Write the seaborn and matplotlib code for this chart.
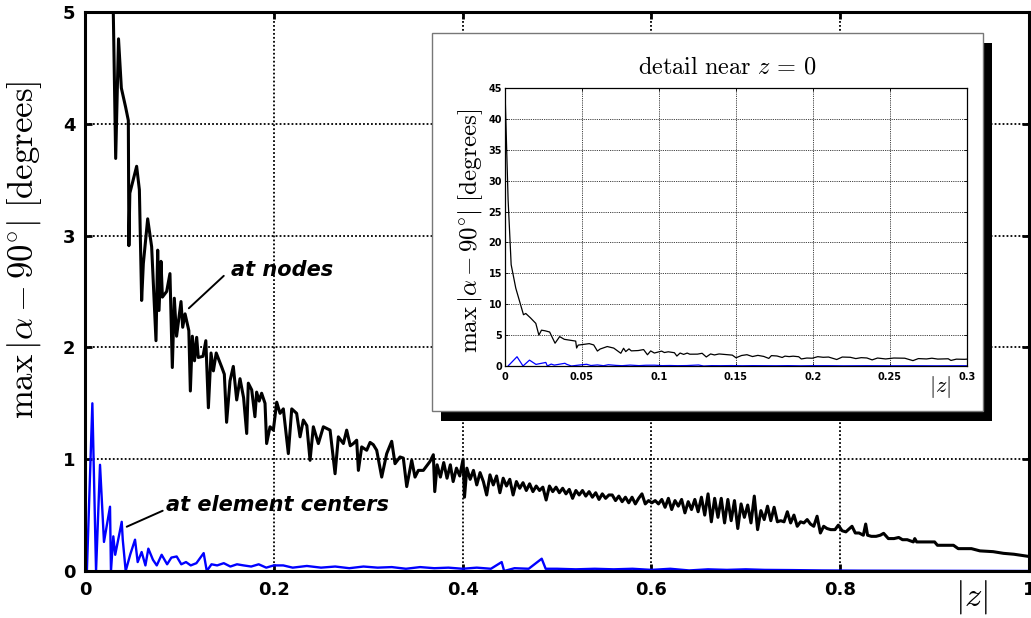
import matplotlib
matplotlib.use("Agg")
import matplotlib.pyplot as plt
from matplotlib.patches import Rectangle
import seaborn as sns
import pandas as pd

# max deviation at mesh nodes
z_nodes = [
    0.000, 0.002, 0.004, 0.007, 0.010, 0.012, 0.0135, 0.0165, 0.020, 0.022,
    0.0237, 0.026, 0.029, 0.0325, 0.0355, 0.0385, 0.043, 0.0459, 0.0465, 0.0475,
    0.0547, 0.0576, 0.060, 0.0618, 0.0664, 0.0706, 0.0752, 0.077, 0.0784, 0.0805,
    0.082, 0.0865, 0.090, 0.0925, 0.0946, 0.097, 0.1017, 0.1035, 0.106, 0.110,
    0.1116, 0.1137, 0.116, 0.1183, 0.120, 0.125, 0.128, 0.1307, 0.1335, 0.136,
    0.139, 0.1413, 0.145, 0.1476, 0.150, 0.1536, 0.1571, 0.1607, 0.1642, 0.168,
    0.1713, 0.1730, 0.1766, 0.180, 0.1818, 0.1845, 0.1871, 0.1907, 0.1924, 0.196,
    0.1995, 0.2031, 0.2066, 0.2101, 0.2154, 0.219, 0.2242, 0.2278, 0.2313, 0.235,
    0.2384, 0.2419, 0.2472, 0.2525, 0.2596, 0.2649, 0.2684, 0.2737, 0.2772, 0.281,
    0.2843, 0.2878, 0.2896, 0.2931, 0.2984, 0.302, 0.3054, 0.309, 0.3143, 0.3196,
    0.3249, 0.3284, 0.3337, 0.3372, 0.3408, 0.3461, 0.3496, 0.3531, 0.3584, 0.3655,
    0.369, 0.3705, 0.373, 0.3765, 0.380, 0.3835, 0.387, 0.390, 0.3935, 0.397,
    0.4005, 0.402, 0.4045, 0.408, 0.4115, 0.415, 0.4185, 0.422, 0.4255, 0.429,
    0.4325, 0.436, 0.4395, 0.443, 0.4465, 0.450, 0.4535, 0.457, 0.4605, 0.464,
    0.4675, 0.471, 0.4745, 0.478, 0.4815, 0.485, 0.4885, 0.492, 0.4955, 0.499,
    0.5025, 0.506, 0.5095, 0.513, 0.5165, 0.520, 0.5235, 0.527, 0.5305, 0.534,
    0.5375, 0.541, 0.5445, 0.548, 0.5515, 0.555,
    0.5585, 0.562, 0.5655, 0.569, 0.5725, 0.576, 0.5795, 0.583, 0.5865, 0.590,
    0.5935, 0.597, 0.6005, 0.604, 0.6075, 0.611, 0.6145, 0.618, 0.6215, 0.625,
    0.6285, 0.632, 0.6355, 0.639, 0.6425, 0.646, 0.6495, 0.653, 0.6565, 0.660,
    0.6635, 0.667, 0.6705, 0.674, 0.6775, 0.681, 0.6845, 0.688, 0.6915, 0.695,
    0.6985, 0.702, 0.7055, 0.709, 0.7125, 0.716, 0.7195, 0.723, 0.7265, 0.730,
    0.7335, 0.737, 0.7405, 0.744, 0.7475, 0.751, 0.7545, 0.758, 0.7615, 0.765,
    0.7685, 0.772, 0.7755, 0.779, 0.7825, 0.786,
    0.790, 0.7945, 0.798, 0.802, 0.806, 0.810, 0.8125, 0.816, 0.820, 0.8245,
    0.827, 0.829, 0.833, 0.838, 0.8425, 0.846, 0.851, 0.857, 0.862, 0.866,
    0.871, 0.8775, 0.879, 0.881, 0.900, 0.903, 0.920, 0.925, 0.939, 0.948,
    0.962, 0.973, 0.984, 1.0,
]
dev_nodes = [
    44.6, 27.0, 16.4, 12.6, 10.0, 8.3, 8.5, 7.8, 6.9, 5.0,
    5.8, 5.7, 5.5, 3.69, 4.76, 4.32, 4.15, 4.03, 2.91, 3.38,
    3.62, 3.41, 2.42, 2.75, 3.15, 2.90, 2.06, 2.87, 2.33, 2.77,
    2.45, 2.50, 2.66, 1.82, 2.44, 2.10, 2.41, 2.18, 2.30, 2.15,
    1.61, 2.10, 1.88, 2.09, 1.91, 1.92, 2.06, 1.46, 1.95, 1.79,
    1.95, 1.90, 1.82, 1.76, 1.33, 1.70, 1.83, 1.53, 1.72, 1.55,
    1.23, 1.68, 1.62, 1.38, 1.60, 1.52, 1.59, 1.50, 1.14, 1.29,
    1.26, 1.51, 1.41, 1.45, 1.05, 1.45, 1.41, 1.20, 1.35, 1.30,
    0.99, 1.29, 1.14, 1.29, 1.26, 0.87, 1.20, 1.14, 1.26, 1.12,
    1.14, 1.17, 0.90, 1.11, 1.08, 1.15, 1.13, 1.08, 0.84, 1.05,
    1.16, 0.96, 1.02, 1.01, 0.755, 0.99, 0.84, 0.90, 0.90, 0.98,
    1.04, 0.71, 0.95, 0.84, 0.97, 0.83, 0.95, 0.80, 0.92, 0.85,
    1.00, 0.66, 0.92, 0.82, 0.90, 0.77, 0.88, 0.80, 0.68, 0.86,
    0.77, 0.85, 0.70, 0.83, 0.76, 0.82, 0.68, 0.80, 0.74, 0.79,
    0.72, 0.78, 0.71, 0.76, 0.72, 0.75, 0.635, 0.76, 0.71, 0.75,
    0.70, 0.74, 0.69, 0.73, 0.65, 0.72, 0.68, 0.72, 0.67, 0.71,
    0.66, 0.70, 0.64, 0.69, 0.65, 0.68,
    0.68, 0.63, 0.67, 0.62, 0.66, 0.61, 0.66, 0.60, 0.65, 0.69,
    0.60, 0.63, 0.61, 0.63, 0.60, 0.64, 0.57, 0.65, 0.55, 0.63,
    0.58, 0.64, 0.52, 0.62, 0.55, 0.64, 0.53, 0.66, 0.50, 0.69,
    0.44, 0.65, 0.48, 0.65, 0.43, 0.64, 0.45, 0.63, 0.38, 0.60,
    0.48, 0.59, 0.43, 0.67, 0.37, 0.54, 0.46, 0.58, 0.45, 0.57,
    0.44, 0.45, 0.44, 0.53, 0.43, 0.50, 0.40, 0.44, 0.43, 0.46,
    0.42, 0.40, 0.49, 0.34, 0.40, 0.38,
    0.37, 0.37, 0.41, 0.36, 0.35, 0.38, 0.40, 0.34, 0.34, 0.32,
    0.42, 0.32, 0.31, 0.31, 0.32, 0.337, 0.29, 0.29, 0.30, 0.28,
    0.28, 0.26, 0.29, 0.26, 0.26, 0.23, 0.23, 0.20, 0.20, 0.18,
    0.173, 0.158, 0.15, 0.13,
]

# max deviation at element centers
z_centers = [
    0.002, 0.0078, 0.0117, 0.0159, 0.0201, 0.0265, 0.0275, 0.030, 0.032, 0.0389,
    0.040, 0.0431, 0.048, 0.053, 0.0558, 0.060, 0.064, 0.0671, 0.072, 0.076,
    0.0812, 0.087, 0.0915, 0.0971, 0.102, 0.107, 0.112, 0.118, 0.1257, 0.129,
    0.134, 0.140, 0.147, 0.154, 0.161, 0.168, 0.176, 0.184, 0.192, 0.200,
    0.21, 0.22, 0.235, 0.25, 0.265, 0.28, 0.295, 0.31, 0.325, 0.34,
    0.355, 0.37, 0.385, 0.40, 0.415, 0.43, 0.4414, 0.444, 0.455, 0.47,
    0.4838, 0.488, 0.50, 0.52, 0.54, 0.56, 0.58, 0.60, 0.62, 0.64,
    0.66, 0.68, 0.70, 0.72, 0.75, 0.78, 0.82, 0.88, 0.94, 1.0,
]
dev_centers = [
    0.0, 1.50, 0.0, 0.95, 0.26, 0.575, 0.0, 0.31, 0.145, 0.44,
    0.28, 0.0, 0.15, 0.28, 0.08, 0.17, 0.05, 0.20, 0.10, 0.05,
    0.145, 0.06, 0.12, 0.13, 0.06, 0.08, 0.05, 0.07, 0.16, 0.0,
    0.06, 0.05, 0.07, 0.04, 0.06, 0.05, 0.04, 0.06, 0.03, 0.05,
    0.05, 0.03, 0.045, 0.03, 0.04, 0.025, 0.04, 0.03, 0.035, 0.02,
    0.035, 0.025, 0.03, 0.02, 0.03, 0.02, 0.08, 0.0, 0.025, 0.02,
    0.11, 0.02, 0.02, 0.015, 0.02, 0.015, 0.02, 0.01, 0.02, 0.005,
    0.015, 0.01, 0.015, 0.01, 0.008, 0.005, 0.003, 0.002, 0.001, 0.0,
]

main_xticks = [0, 0.2, 0.4, 0.6, 0.8, 1.0]
main_xlabels = ["0", "0.2", "0.4", "0.6", "0.8", "1"]
main_yticks = [0, 1, 2, 3, 4, 5]
inset_xticks = [0, 0.05, 0.1, 0.15, 0.2, 0.25, 0.3]
inset_xlabels = ["0", "0.05", "0.1", "0.15", "0.2", "0.25", "0.3"]
inset_yticks = [0, 5, 10, 15, 20, 25, 30, 35, 40, 45]

assert len(z_nodes) == len(dev_nodes)
assert len(z_centers) == len(dev_centers)

sns.set_style("ticks")
plt.rcParams["font.family"] = ["DejaVu Sans"]
plt.rcParams["mathtext.fontset"] = "cm"
for key in ["text.color", "axes.labelcolor", "xtick.color", "ytick.color",
            "axes.edgecolor"]:
    plt.rcParams[key] = "black"

nodes = pd.DataFrame({"z": z_nodes, "dev": dev_nodes})
centers = pd.DataFrame({"z": z_centers, "dev": dev_centers})

W, H = 1031, 618
fig = plt.figure(figsize=(W / 100, H / 100), dpi=100)

# main axes
ax = fig.add_axes([85 / W, 1 - 571 / H, 944 / W, 559 / H])
ax.set_axisbelow(True)
sns.lineplot(data=nodes, x="z", y="dev", color="black", lw=2.2,
             estimator=None, sort=False, ax=ax)
sns.lineplot(data=centers, x="z", y="dev", color="#0000ff", lw=1.7,
             estimator=None, sort=False, ax=ax)
ax.set_xlim(0, 1)
ax.set_ylim(0, 5)
ax.set_xticks(main_xticks)
ax.set_xticklabels(main_xlabels, fontweight="bold", fontsize=13)
ax.set_yticks(main_yticks)
ax.set_yticklabels([str(t) for t in main_yticks], fontweight="bold", fontsize=13)
ax.set_xlabel("")
ax.set_ylabel("")
ax.grid(True, color="black", linestyle=(0, (1, 1.2)), lw=1.3)
ax.tick_params(direction="in", length=5, width=2, top=True, right=True, pad=7)
for s in ax.spines.values():
    s.set_linewidth(2.2)
    s.set_visible(True)

ax.text(0.155, 2.69, "at nodes", fontsize=15, fontweight="bold",
        fontstyle="italic", va="center")
ax.plot([0.110, 0.147], [2.35, 2.64], color="black", lw=1.4)
ax.text(0.0858, 0.59, "at element centers", fontsize=15, fontweight="bold",
        fontstyle="italic", va="center")
ax.plot([0.0442, 0.0823], [0.396, 0.539], color="black", lw=1.4)

fig.text(25 / W, 1 - 250 / H, r"$\max\,|\alpha - 90^{\circ}|\ [\mathrm{degrees}]$",
         rotation=90, ha="center", va="center", fontsize=25)
fig.text(972 / W, 1 - 597 / H, r"$|z|$", ha="center", va="center", fontsize=25)

# inset frame with drop shadow
fig.add_artist(Rectangle((441 / W, 1 - 421 / H), 551 / W, 378 / H,
                         transform=fig.transFigure, facecolor="black",
                         edgecolor="none", zorder=1))
fig.add_artist(Rectangle((432 / W, 1 - 411 / H), 551 / W, 378 / H,
                         transform=fig.transFigure, facecolor="white",
                         edgecolor="#777777", lw=1.0, zorder=1.1))

# inset axes
ins = fig.add_axes([505 / W, 1 - 366 / H, 462 / W, 278 / H])
ins.set_zorder(3)
ins.set_axisbelow(True)
sns.lineplot(data=nodes, x="z", y="dev", color="black", lw=0.9,
             estimator=None, sort=False, ax=ins)
sns.lineplot(data=centers, x="z", y="dev", color="#0000ff", lw=0.9,
             estimator=None, sort=False, ax=ins)
ins.set_xlim(0, 0.3)
ins.set_ylim(0, 45)
ins.set_xticks(inset_xticks)
ins.set_xticklabels(inset_xlabels, fontweight="bold", fontsize=7)
ins.set_yticks(inset_yticks)
ins.set_yticklabels([str(t) for t in inset_yticks], fontweight="bold", fontsize=7)
ins.set_xlabel("")
ins.set_ylabel("")
ins.grid(True, color="black", linestyle=(0, (1, 1.2)), lw=0.6)
ins.tick_params(direction="in", length=2, width=0.6, top=True, right=True)
ins.tick_params(axis="x", pad=4)
ins.tick_params(axis="y", pad=2)
for s in ins.spines.values():
    s.set_linewidth(0.9)
    s.set_visible(True)

fig.text(727 / W, 1 - 67 / H, r"$\mathrm{detail\ near}\ z\, =\, 0$",
         ha="center", va="center", fontsize=17.5, zorder=4)
fig.text(471 / W, 1 - 231 / H, r"$\max\,|\alpha - 90^{\circ}|\ [\mathrm{degrees}]$",
         rotation=90, ha="center", va="center", fontsize=18, zorder=4)
fig.text(940 / W, 1 - 387 / H, r"$|z|$", ha="center", va="center",
         fontsize=16, zorder=4)

fig.savefig("out.png", dpi=100)
